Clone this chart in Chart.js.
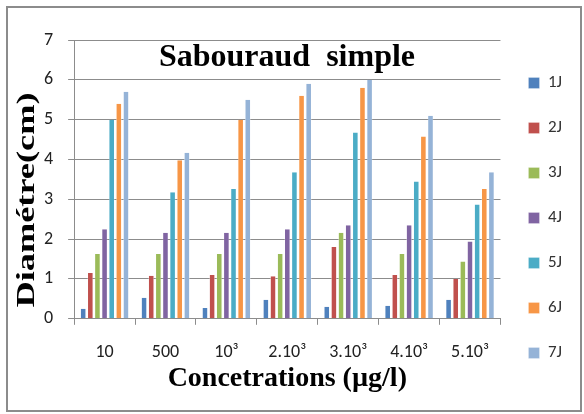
<!DOCTYPE html>
<html>
<head>
<meta charset="utf-8">
<script src="https://cdn.jsdelivr.net/npm/chart.js@4.4.0/dist/chart.umd.min.js"></script>
<style>
    html, body { margin: 0; padding: 0; background: #fff; }
    #wrap { position: relative; width: 584px; height: 414px; }
    #frame { position: absolute; left: 6px; top: 6px; width: 576px; height: 406px; border: 2px solid #8c8c8c; box-sizing: border-box; pointer-events: none; }
    canvas { position: absolute; left: 0; top: 0; }
</style>
</head>
<body>
<div id="wrap">
    <canvas id="chart" width="584" height="414"></canvas>
    <div id="frame"></div>
</div>
<script>
// Sabouraud simple - diametre par concentration
const categories = ['10', '500', '10³', '2.10³', '3.10³', '4.10³', '5.10³'];
const seriesNames = ['1J', '2J', '3J', '4J', '5J', '6J', '7J'];
const seriesColors = ['#4F81BD', '#C0504D', '#9BBB59', '#8064A2', '#4BACC6', '#F79646', '#95B3D7'];

const day1 = [0.25, 0.53, 0.27, 0.48, 0.30, 0.33, 0.48];
const day2 = [1.15, 1.08, 1.10, 1.07, 1.80, 1.10, 1.00];
const day3 = [1.63, 1.63, 1.63, 1.63, 2.16, 1.63, 1.44];
const day4 = [2.25, 2.16, 2.16, 2.25, 2.35, 2.35, 1.94];
const day5 = [5.00, 3.18, 3.26, 3.68, 4.68, 3.45, 2.87];
const day6 = [5.40, 3.98, 5.00, 5.60, 5.80, 4.58, 3.26];
const day7 = [5.70, 4.17, 5.50, 5.90, 6.00, 5.10, 3.68];

const yTicks = [0, 1, 2, 3, 4, 5, 6, 7];

const allDays = [day1, day2, day3, day4, day5, day6, day7];

const sansFont = 'Carlito, Lato, "Liberation Sans", sans-serif';
const serifFont = '"Liberation Serif", "Times New Roman", serif';

// title sits inside the plot, between the 6 and 7 gridlines
const titlePlugin = {
    id: 'innerTitle',
    afterDraw(chart) {
        const { ctx, chartArea } = chart;
        ctx.save();
        ctx.font = 'bold 32px ' + serifFont;
        ctx.fillStyle = '#000';
        ctx.textAlign = 'center';
        ctx.textBaseline = 'alphabetic';
        ctx.fillText('Sabouraud  simple', 287, chartArea.top + 26);
        ctx.restore();
    }
};

// y title is stretched along the axis in the original picture
const yTitlePlugin = {
    id: 'yTitle',
    afterDraw(chart) {
        const { ctx } = chart;
        const text = 'Diamétre(cm)';
        ctx.save();
        ctx.font = 'bold 26px ' + serifFont;
        const w = ctx.measureText(text).width;
        ctx.translate(27, 200);
        ctx.rotate(-Math.PI / 2);
        ctx.scale(215 / w, 1);
        ctx.fillStyle = '#000';
        ctx.textAlign = 'center';
        ctx.textBaseline = 'middle';
        ctx.fillText(text, 0, 0);
        ctx.restore();
    }
};

const ctx = document.getElementById('chart').getContext('2d');
new Chart(ctx, {
    type: 'bar',
    data: {
        labels: categories,
        datasets: seriesNames.map((name, i) => ({
            label: name,
            data: allDays[i],
            backgroundColor: seriesColors[i],
            borderColor: '#ffffff',
            borderWidth: { left: 0.5, right: 0.5, top: 0, bottom: 0 },
            barPercentage: 0.78,
            categoryPercentage: 0.82
        }))
    },
    options: {
        responsive: false,
        animation: false,
        layout: { padding: { left: 29, top: 40, right: 12, bottom: 18 } },
        plugins: {
            title: { display: false },
            tooltip: { enabled: false },
            legend: {
                position: 'right',
                labels: {
                    boxWidth: 11,
                    boxHeight: 11,
                    padding: 28,
                    color: '#333',
                    font: { family: sansFont, size: 17 }
                }
            }
        },
        scales: {
            x: {
                grid: {
                    offset: true,
                    drawOnChartArea: false,
                    drawTicks: true,
                    tickLength: 6,
                    color: '#8c8c8c'
                },
                border: { color: '#8c8c8c', width: 1 },
                ticks: {
                    color: '#222',
                    padding: 17,
                    maxRotation: 0,
                    font: { family: sansFont, size: 18 }
                },
                title: {
                    display: true,
                    text: 'Concetrations (µg/l)',
                    color: '#000',
                    padding: { top: -18, bottom: 0 },
                    font: { family: serifFont, size: 28, weight: 'bold' }
                }
            },
            y: {
                min: 0,
                max: 7,
                afterBuildTicks: axis => { axis.ticks = yTicks.map(v => ({ value: v })); },
                grid: { color: '#8c8c8c', tickLength: 6 },
                border: { color: '#8c8c8c', width: 1 },
                ticks: {
                    color: '#222',
                    padding: 15,
                    font: { family: sansFont, size: 18 }
                },
                title: { display: false }
            }
        }
    },
    plugins: [titlePlugin, yTitlePlugin]
});
</script>
</body>
</html>
